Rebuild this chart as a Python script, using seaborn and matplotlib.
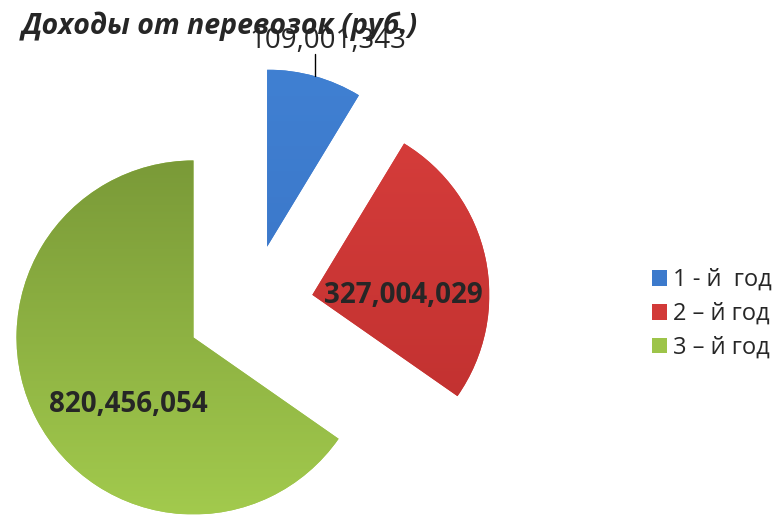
import numpy as np
import matplotlib
matplotlib.use("Agg")
import matplotlib.pyplot as plt
import matplotlib.colors as mcolors
from matplotlib.patches import Patch
import seaborn as sns

# Data
years = ["1 - й  год", "2 – й год", "3 – й год"]
income = [109001343, 327004029, 820456054]
value_labels = ["109,001,343", "327,004,029", "820,456,054"]

# Colours (top, bottom) for the gradient fill of each slice
base_colors = ["#3C7ACC", "#D23A38", "#9DC449"]
grad_colors = [("#4080D2", "#3872C4"), ("#D63D3B", "#BE2F2E"), ("#7A9A38", "#A2CA4D")]

sns.set_theme(style="white")
plt.rcParams["font.family"] = ["Open Sans", "DejaVu Sans"]

fig = plt.figure(figsize=(7.81, 5.17), dpi=100)
ax = fig.add_axes([0, 0, 1, 1])

# one pie radius = 177 px, pie centre at (250, 308) px from top-left
r_px = 177.0
cx, cy = 250.0, 517 - 308.0

wedges, _ = ax.pie(income, colors=base_colors, startangle=90, counterclock=False,
                   explode=[0.36, 0.36, 0.36], radius=1.0)

# gradient fill clipped to each wedge
for w, (c_top, c_bot) in zip(wedges, grad_colors):
    cmap = mcolors.LinearSegmentedColormap.from_list("g", [c_bot, c_top])
    x0, y0 = w.center[0] - 1, w.center[1] - 1
    grad = np.linspace(0, 1, 256).reshape(-1, 1)
    im = ax.imshow(grad, cmap=cmap, origin="lower", aspect="auto",
                   extent=[x0, x0 + 2, y0, y0 + 2], zorder=w.get_zorder() + 0.1)
    im.set_clip_path(w)
    w.set_edgecolor("none")
ax.set_xlim(-cx / r_px, (781 - cx) / r_px)
ax.set_ylim(-cy / r_px, (517 - cy) / r_px)
ax.axis("off")

# value labels
blue = wedges[0]
mid = np.deg2rad((blue.theta1 + blue.theta2) / 2)
lx = blue.center[0] + np.cos(mid)
ly = blue.center[1] + np.sin(mid)
ax.plot([lx, lx], [ly, ly + 0.125], color="black", lw=1, zorder=5)
ax.text(0.44, 1.51, value_labels[0], ha="center", va="center", fontsize=20, zorder=6)
ax.text(0.864, 0.073, value_labels[1], ha="center", va="center", fontsize=20,
        fontweight="bold", zorder=6)
ax.text(-0.689, -0.548, value_labels[2], ha="center", va="center", fontsize=20,
        fontweight="bold", zorder=6)

fig.text(22 / 781, 1 - 26 / 517, "Доходы от перевозок (руб.)", ha="left", va="center",
         fontsize=20.5, fontweight="bold", fontstyle="italic")

handles = [Patch(facecolor=c, edgecolor="none") for c in base_colors]
fig.legend(handles, years, loc="upper left", bbox_to_anchor=(652 / 781, 1 - 268 / 517),
           frameon=False, fontsize=17, handlelength=0.65, handleheight=0.65,
           handletextpad=0.25, labelspacing=0.42, borderaxespad=0, borderpad=0)

fig.savefig("out.png", dpi=100)
